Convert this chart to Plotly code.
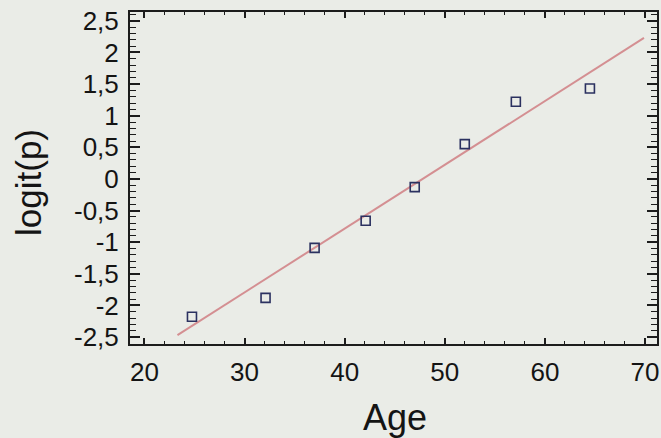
import plotly.graph_objects as go

# Observed logits by age group
ages = [24.75, 32.1, 37.0, 42.1, 47.0, 52.0, 57.1, 64.5]
logits = [-2.18, -1.88, -1.09, -0.66, -0.13, 0.55, 1.22, 1.43]

# Fitted logistic regression line (end points)
fit_age = [23.3, 69.9]
fit_logit = [-2.47, 2.23]

# Axis ticks
x_ticks = [20, 30, 40, 50, 60, 70]
x_labels = ["20", "30", "40", "50", "60", "70"]
y_ticks = [2.5, 2, 1.5, 1, 0.5, 0, -0.5, -1, -1.5, -2, -2.5]
y_labels = ["2,5", "2", "1,5", "1", "0,5", "0", "-0,5", "-1", "-1,5", "-2", "-2,5"]

BG = "#eaece7"
AX = "#1c1c1c"
TXT = "#141414"
FONT = "Liberation Sans, Arial, sans-serif"

fig = go.Figure()
fig.add_trace(go.Scatter(
    x=fit_age, y=fit_logit, mode="lines",
    line=dict(color="#d48f92", width=2),
    hoverinfo="skip", showlegend=False,
))
fig.add_trace(go.Scatter(
    x=ages, y=logits, mode="markers",
    marker=dict(symbol="square-open", size=9, color="#2b3160",
                line=dict(width=1.6, color="#2b3160")),
    showlegend=False,
))

fig.update_xaxes(
    range=[18.56, 71.2], tickvals=x_ticks, ticktext=x_labels,
    ticks="inside", ticklen=6, tickwidth=1.5, tickcolor=AX,
    minor=dict(dtick=2, tick0=0, ticks="inside", ticklen=3, tickwidth=1, tickcolor=AX),
    showline=True, linecolor=AX, linewidth=2, mirror="allticks",
    showgrid=False, zeroline=False,
    tickfont=dict(family=FONT, size=26, color=TXT),
    ticklabelstandoff=4,
)
fig.update_yaxes(
    range=[-2.61, 2.64], tickvals=y_ticks, ticktext=y_labels,
    ticks="inside", ticklen=10, tickwidth=1.5, tickcolor=AX,
    minor=dict(dtick=0.1, tick0=0, ticks="inside", ticklen=6, tickwidth=1, tickcolor=AX),
    showline=True, linecolor=AX, linewidth=2, mirror="allticks",
    showgrid=False, zeroline=False,
    tickfont=dict(family=FONT, size=26, color=TXT),
    ticklabelstandoff=4,
)

fig.add_annotation(text="Age", xref="paper", yref="paper",
                   x=(396 - 129.5) / (659 - 129.5), y=-(417 - 344) / (344 - 12),
                   showarrow=False, xanchor="center", yanchor="middle",
                   font=dict(family=FONT, size=36, color=TXT))
fig.add_annotation(text="logit(p)", xref="paper", yref="paper",
                   x=-(129.5 - 28) / (659 - 129.5), y=(344 - 182) / (344 - 12),
                   showarrow=False, xanchor="center", yanchor="middle", textangle=-90,
                   font=dict(family=FONT, size=35, color=TXT))

fig.update_layout(
    width=661, height=438,
    margin=dict(l=129.5, r=2, t=12, b=94),
    paper_bgcolor=BG, plot_bgcolor=BG,
)

fig.write_html("out.html")
